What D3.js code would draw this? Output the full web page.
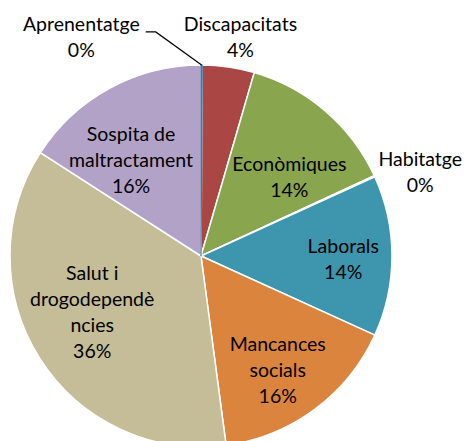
<!DOCTYPE html>
<html>
<head>
<meta charset="utf-8">
<script src="https://cdn.jsdelivr.net/npm/d3@7"></script>
<style>
  html, body { margin: 0; padding: 0; background: #fff; }
  svg { display: block; }
  text { font-family: Lato, "Open Sans", sans-serif; font-size: 19.5px; fill: #000; }
</style>
</head>
<body>
<svg id="chart" width="465" height="441"></svg>
<script>
// ---- data ----
const categories = ["Aprenentatge", "Discapacitats", "Econòmiques", "Habitatge", "Laborals", "Mancances socials", "Salut i drogodependències", "Sospita de maltractament"];
const values = [0.1, 4.4, 13.6, 0.1, 13.6, 16.1, 36.2, 15.9];
const labelLines = [["Aprenentatge"], ["Discapacitats"], ["Econòmiques"], ["Habitatge"], ["Laborals"], ["Mancances", "socials"], ["Salut i", "drogodependè", "ncies"], ["Sospita de", "maltractament"]];
const colors = ["#4572A7", "#AA4643", "#89A54E", "#80699B", "#3D96AE", "#DB843D", "#C4BD97", "#B3A2C7"];

// ---- layout (label placement: radius fraction, angle nudge in degrees) ----
const labelPlace = [[1.30, -29], [1.157, 2], [0.616, 8], [1.227, 4], [0.745, 2], [0.727, 3], [0.644, 4.6], [0.614, -8]];
const leader = [true, false, false, false, false, false, false, false];

const cx = 201, cy = 256, R = 191;
const svg = d3.select("#chart");
const g = svg.append("g").attr("transform", `translate(${cx},${cy})`);

const total = d3.sum(values);
const data = categories.map((c, i) => ({ name: c, value: values[i], i }));
const pie = d3.pie().value(d => d.value).sort(null);
const arcs = pie(data);
const arc = d3.arc().innerRadius(0).outerRadius(R);

// slices (tiny blue one drawn last so it remains visible)
const order = arcs.slice(1).concat([arcs[0]]);
g.selectAll("path.slice").data(order).enter().append("path")
  .attr("class", "slice")
  .attr("d", arc)
  .attr("fill", d => colors[d.data.i])
  .attr("stroke", d => d.data.i === 0 ? colors[0] : "#fff")
  .attr("stroke-width", d => d.data.i === 0 ? 1.2 : 1.5)
  .attr("stroke-linejoin", "round");

const lh = 26;
function polar(angle, r) { return [Math.sin(angle) * r, -Math.cos(angle) * r]; }

arcs.forEach(a => {
  const i = a.data.i;
  const mid = (a.startAngle + a.endAngle) / 2;
  const [f, nudge] = labelPlace[i];
  const [lx, ly] = polar(mid + nudge * Math.PI / 180, f * R);
  const lines = labelLines[i].concat([Math.round(a.data.value / total * 100) + "%"]);
  const n = lines.length;
  const b1 = ly + 5.5 - (n - 1) * lh / 2;
  const t = g.append("text").attr("text-anchor", "middle");
  lines.forEach((s, k) => {
    t.append("tspan").attr("x", lx).attr("y", b1 + k * lh).text(s);
  });
  if (leader[i]) {
    const w = t.node().getBBox().width;
    const [px, py] = polar(mid, R);
    const ex = lx + w / 2 + 6, ey = b1 - 6 + 7;
    g.append("path")
      .attr("d", `M${px},${py}L${ex + 10},${ey}L${ex},${ey}`)
      .attr("fill", "none").attr("stroke", "#000").attr("stroke-width", 1.2);
  }
});
</script>
</body>
</html>
